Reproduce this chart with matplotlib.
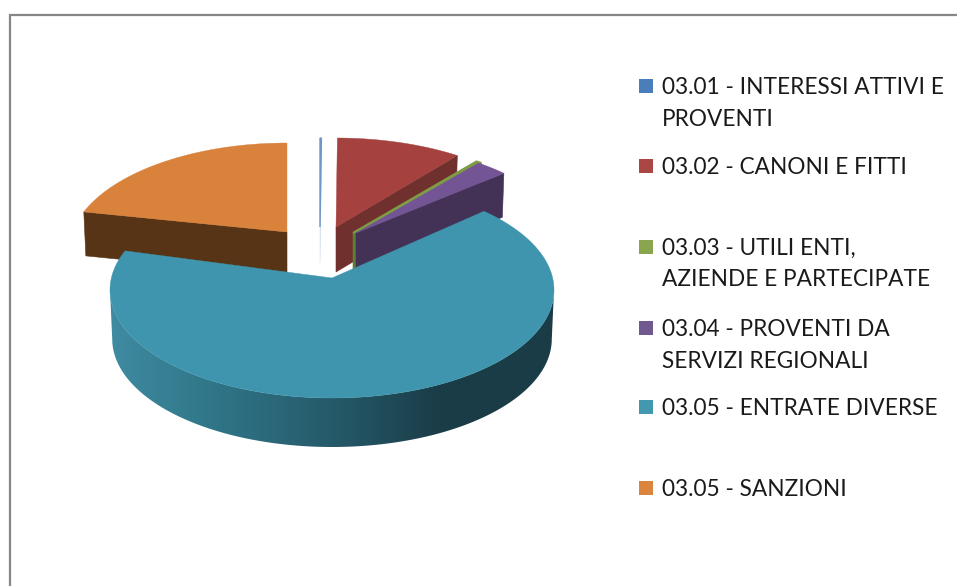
import numpy as np
import matplotlib
matplotlib.use("Agg")
import matplotlib.pyplot as plt
from matplotlib.colors import LinearSegmentedColormap
from matplotlib.patches import Polygon, Rectangle

plt.rcParams["font.family"] = ["Lato", "DejaVu Sans"]

# Data (percent of the total)
categories = [
    "03.01 - INTERESSI ATTIVI E\nPROVENTI",
    "03.02 - CANONI E FITTI",
    "03.03 - UTILI ENTI,\nAZIENDE E PARTECIPATE",
    "03.04 - PROVENTI DA\nSERVIZI REGIONALI",
    "03.05 - ENTRATE DIVERSE",
    "03.05 - SANZIONI",
]
values = [0.1, 9.1, 0.4, 2.4, 68.9, 19.1]

top_colors = ["#6f96c6", "#a5423f", "#7f9c45", "#735595", "#3f95ae", "#d9823b"]
side_colors = ["#d3deec", "#70302e", "#5f7d33", "#433255", "#1a3c47", "#573416"]
legend_colors = ["#4a7ebb", "#aa4643", "#89a54e", "#71588f", "#4198af", "#db843d"]

# Layout, in pixels of the 957x586 figure
W, H = 957, 586
RY = 108
rim_rx = [222, 222, 226, 216, 222, 218]
apex_x = [320, 336, 353, 356, 332, 287]
apex_y = [227, 227, 233, 233, 278, 232]
rim_drop = [19, 19, 19, 19, 12, 19]
depth = [36, 45, 44, 44, 49, 44]
edge_lw = [1.0, 0.3, 1.6, 0.3, 0.3, 0.3]
legend_y = [86, 166, 247, 328, 407, 488]
LINE_H = 31.5
draw_order = [5, 0, 1, 2, 3, 4]


def rim(theta, cx, cy, rx):
    t = np.radians(theta)
    return cx + rx * np.sin(t), cy - RY * np.cos(t)


fig = plt.figure(figsize=(W / 100, H / 100), dpi=100, facecolor="white")
ax = fig.add_axes([0, 0, 1, 1])
ax.set_axis_off()

# chart frame, open towards the right and the bottom of the crop
ax.plot([10, 10, W], [H, 15, 15], color="#868686", linewidth=1.6,
        solid_joinstyle="miter", zorder=1)

edges = np.concatenate([[0], np.cumsum(values) / np.sum(values) * 360])

for i in draw_order:
    start, end = edges[i], edges[i + 1]
    cx, cy = apex_x[i], apex_y[i] + rim_drop[i]
    rx = rim_rx[i]
    apex = (apex_x[i], apex_y[i])

    if i == 4:
        # round front wall of the big slice, shaded from left to right
        front = np.linspace(90, 270, 181)
        tx, ty = rim(front, cx, cy, rx)
        bx = cx + (tx - cx) * 0.99
        by = ty + depth[i]
        wall = Polygon(np.r_[np.c_[tx, ty], np.c_[bx, by][::-1]],
                       closed=True, facecolor="none", edgecolor="none", zorder=3)
        ax.add_patch(wall)
        shade = LinearSegmentedColormap.from_list(
            "wall", ["#3f8ba1", "#2f7486", "#255a6a", "#1a3c47", "#1a3c47"])
        img = ax.imshow(np.linspace(0, 1, 256).reshape(1, -1), cmap=shade,
                        extent=[cx - rx, cx + rx, 460, 280], aspect="auto", zorder=3)
        img.set_clip_path(wall)
    else:
        # flat cut face of the slice, dropped straight down
        ex, ey = rim(start if i == 5 else end, cx, cy, rx)
        face = [apex, (ex, ey), (cx + (ex - cx) * 0.99, ey + depth[i]),
                (apex[0], apex[1] + depth[i])]
        ax.add_patch(Polygon(face, closed=True, facecolor=side_colors[i],
                             edgecolor=side_colors[i], linewidth=0.4, zorder=3))

    arc = np.linspace(start, end, max(int(end - start) * 2, 2))
    ax_, ay_ = rim(arc, cx, cy, rx)
    top = np.r_[[apex], np.c_[ax_, ay_]]
    ax.add_patch(Polygon(top, closed=True, facecolor=top_colors[i],
                         edgecolor=top_colors[i], linewidth=edge_lw[i], zorder=3))

# legend
for label, color, y in zip(categories, legend_colors, legend_y):
    ax.add_patch(Rectangle((639, y - 7), 14, 14, facecolor=color,
                           edgecolor="none", zorder=4))
    for k, line in enumerate(label.split("\n")):
        ax.text(662, y + 1.5 + k * LINE_H, line, fontsize=16.3, color="#1a1a1a",
                va="center", ha="left", zorder=4)

ax.set_xlim(0, W)
ax.set_ylim(H, 0)

fig.savefig("out.png", dpi=100, facecolor="white")
